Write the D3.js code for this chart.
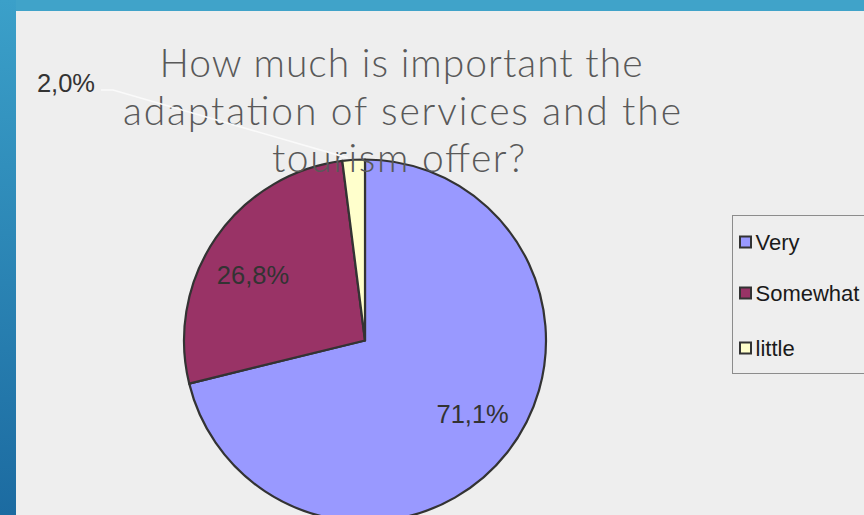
<!DOCTYPE html>
<html>
<head>
<meta charset="utf-8">
<script src="https://cdn.jsdelivr.net/npm/d3@7"></script>
<style>
  html, body { margin: 0; padding: 0; background: #eeeeee; }
  svg { display: block; }
</style>
</head>
<body>
<svg id="chart" width="864" height="515"></svg>
<script>
// Survey answers and their shares (percent)
const categories = ["Very", "Somewhat", "little"];
const values = [71.1, 26.8, 2.0];
const valueLabels = ["71,1%", "26,8%", "2,0%"];
const colors = ["#9999ff", "#993366", "#ffffcc"];
const titleLines = ["How much is important the", "adaptation of services and the", "tourism offer?"];

const W = 864, H = 515;
const svg = d3.select("#chart");

// Slide frame: blue bands on top and left, light panel behind the chart
const defs = svg.append("defs");
const grad = defs.append("linearGradient").attr("id", "frameGrad")
  .attr("x1", 0).attr("y1", 0).attr("x2", 0).attr("y2", 1);
grad.append("stop").attr("offset", 0).attr("stop-color", "#3ba0c9");
grad.append("stop").attr("offset", 1).attr("stop-color", "#1c6ba1");
svg.append("rect").attr("width", W).attr("height", H).attr("fill", "url(#frameGrad)");
svg.append("rect").attr("x", 16).attr("width", W - 16).attr("height", 11).attr("fill", "#40a3c9");
svg.append("rect").attr("x", 16).attr("y", 11).attr("width", W - 16).attr("height", H - 11).attr("fill", "#eeeeee");

// Pie geometry
const cx = 365, cy = 340.5, R = 181;
const pie = d3.pie().sort(null).value(d => d)(values);
const arc = d3.arc().innerRadius(0).outerRadius(R);
const labelR = R * 0.718, labelTurn = -0.07;

const g = svg.append("g").attr("transform", `translate(${cx},${cy})`);
g.selectAll("path.slice").data(pie).join("path")
  .attr("class", "slice")
  .attr("d", arc)
  .attr("fill", (d, i) => colors[i])
  .attr("stroke", "#333333")
  .attr("stroke-width", 2.2)
  .attr("stroke-linejoin", "round");

// Chart title over the pie, each line stretched to its set width
const titleWidths = [483, 558, 253];
const title = svg.append("text")
  .attr("x", 401).attr("y", 77)
  .attr("text-anchor", "middle")
  .attr("font-family", "Lato, 'Open Sans', sans-serif")
  .attr("font-weight", 300)
  .attr("font-size", 39)
  .attr("fill", "#595959");
title.selectAll("tspan").data(titleLines).join("tspan")
  .attr("x", (d, i) => [401, 402, 398.5][i])
  .attr("dy", (d, i) => i === 0 ? 0 : 47.5)
  .attr("textLength", (d, i) => titleWidths[i])
  .attr("lengthAdjust", "spacing")
  .text(d => d);

// Value labels inside the large slices
const inside = pie.filter(d => (d.endAngle - d.startAngle) > 0.3);
g.selectAll("text.val").data(inside).join("text")
  .attr("class", "val")
  .attr("transform", d => {
    const a = (d.startAngle + d.endAngle) / 2 + labelTurn;
    return `translate(${Math.sin(a) * labelR},${-Math.cos(a) * labelR})`;
  })
  .attr("text-anchor", "middle")
  .attr("dy", "0.36em")
  .attr("font-family", "'Liberation Sans', Arial, sans-serif")
  .attr("font-size", 25.5)
  .attr("fill", "#333333")
  .text(d => valueLabels[d.index]);

// Small slice: label placed outside with a leader line
const small = pie.filter(d => (d.endAngle - d.startAngle) <= 0.3);
small.forEach(d => {
  const mid = (d.startAngle + d.endAngle) / 2;
  const ex = cx + Math.sin(mid) * (R - 2) - 6, ey = cy - Math.cos(mid) * (R + 2);
  const lx = 101, ly = 90;
  svg.append("path")
    .attr("d", `M${ex},${ey}L${lx + 12},${ly}L${lx},${ly}`)
    .attr("fill", "none")
    .attr("stroke", "#fafafa")
    .attr("stroke-width", 1.6);
  svg.append("text")
    .attr("x", lx - 6).attr("y", ly + 2)
    .attr("text-anchor", "end")
    .attr("font-family", "'Liberation Sans', Arial, sans-serif")
    .attr("font-size", 25.5)
    .attr("fill", "#333333")
    .text(valueLabels[d.index]);
});

// Legend
const lg = svg.append("g").attr("transform", "translate(732.5,215.5)");
lg.append("rect").attr("width", 160).attr("height", 158)
  .attr("fill", "#eeeeee").attr("stroke", "#8c8c8c").attr("stroke-width", 1);
const item = lg.selectAll("g.item").data(categories).join("g")
  .attr("class", "item")
  .attr("transform", (d, i) => `translate(0,${[21, 72, 127][i]})`);
item.append("rect")
  .attr("x", 7.5).attr("width", 11).attr("height", 11)
  .attr("fill", (d, i) => colors[i])
  .attr("stroke", "#333333").attr("stroke-width", 2);
item.append("text")
  .attr("x", 23).attr("y", 13.5)
  .attr("font-family", "'Liberation Sans', Arial, sans-serif")
  .attr("font-size", 22)
  .attr("fill", "#1a1a1a")
  .text(d => d);
</script>
</body>
</html>
